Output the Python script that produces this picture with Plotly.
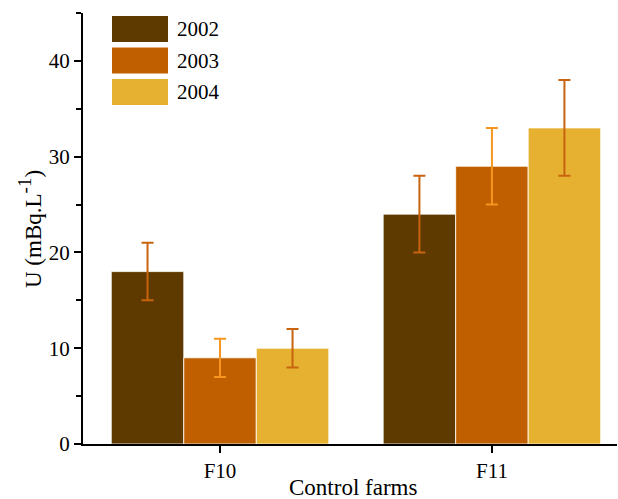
import plotly.graph_objects as go

categories = ["F10", "F11"]
years = ["2002", "2003", "2004"]
values = {
    "2002": [18, 24],
    "2003": [9, 29],
    "2004": [10, 33],
}
errors = {
    "2002": [3, 4],
    "2003": [2, 4],
    "2004": [2, 5],
}
bar_colors = {"2002": "#5e3a00", "2003": "#bf5f00", "2004": "#e6b030"}
err_colors = {"2002": "#c8640e", "2003": "#f7961e", "2004": "#c8640e"}

FONT = "Liberation Serif"

fig = go.Figure()
for y in years:
    fig.add_trace(go.Bar(
        x=categories, y=values[y], name=y,
        marker=dict(color=bar_colors[y], line=dict(color="rgba(255,255,255,0.8)", width=1)),
        error_y=dict(type="data", array=errors[y], visible=True,
                     color=err_colors[y], thickness=2, width=6),
        showlegend=False,
        hoverinfo="skip",
    ))

# geometry (pixels)
H = 499
plot_top, plot_bottom = 13, 444
plot_h = plot_bottom - plot_top
L, R = 83, 617
plot_w = R - L

def px_x(x):
    return (x - L) / plot_w

def px_y(y):
    return (plot_bottom - y) / plot_h

# manual legend with large swatches
row_h = 31.5
top_px = 16
for i, y in enumerate(years):
    y0 = top_px + i * row_h
    y1 = y0 + 26
    fig.add_shape(type="rect", xref="paper", yref="paper",
                  x0=px_x(112), x1=px_x(168),
                  y0=px_y(y1), y1=px_y(y0),
                  fillcolor=bar_colors[y], line=dict(width=0))
    fig.add_annotation(xref="paper", yref="paper",
                       x=px_x(175), y=px_y(y0 + 13),
                       text=y, showarrow=False, xanchor="left", yanchor="middle",
                       font=dict(family=FONT, size=21, color="black"))

# axis titles
fig.add_annotation(xref="paper", yref="paper", x=px_x(353), y=px_y(487),
                   text="Control farms", showarrow=False,
                   xanchor="center", yanchor="middle",
                   font=dict(family=FONT, size=23, color="black"))
fig.add_annotation(xref="paper", yref="paper", x=px_x(30), y=px_y(229),
                   text="U (mBq.L<sup><span style='font-size:19px'>-1</span></sup>)",
                   showarrow=False, textangle=-90,
                   xanchor="center", yanchor="middle",
                   font=dict(family=FONT, size=23, color="black"))

fig.update_layout(
    width=618, height=499,
    margin=dict(l=L, r=618 - R, t=plot_top, b=H - plot_bottom),
    plot_bgcolor="white", paper_bgcolor="white",
    barmode="group", bargap=0.2, bargroupgap=0,
    font=dict(family=FONT, size=21, color="black"),
    xaxis=dict(
        range=[-0.504, 1.46], automargin=False,
        showline=True, linecolor="black", linewidth=2,
        ticks="outside", ticklen=7, tickwidth=2, tickcolor="black",
        showgrid=False, zeroline=False,
        tickfont=dict(family=FONT, size=21),
    ),
    yaxis=dict(
        range=[0, 45], automargin=False,
        tickvals=[0, 10, 20, 30, 40],
        showline=True, linecolor="black", linewidth=2,
        ticks="outside", ticklen=7, tickwidth=2, tickcolor="black",
        minor=dict(tickvals=[5, 15, 25, 35, 45], ticks="outside", ticklen=5, tickwidth=2, tickcolor="black"),
        showgrid=False, zeroline=False,
        tickfont=dict(family=FONT, size=21),
    ),
)

fig.write_html("out.html", config={"displayModeBar": False},
               post_script="document.body.style.margin='0';document.body.style.padding='0';")
